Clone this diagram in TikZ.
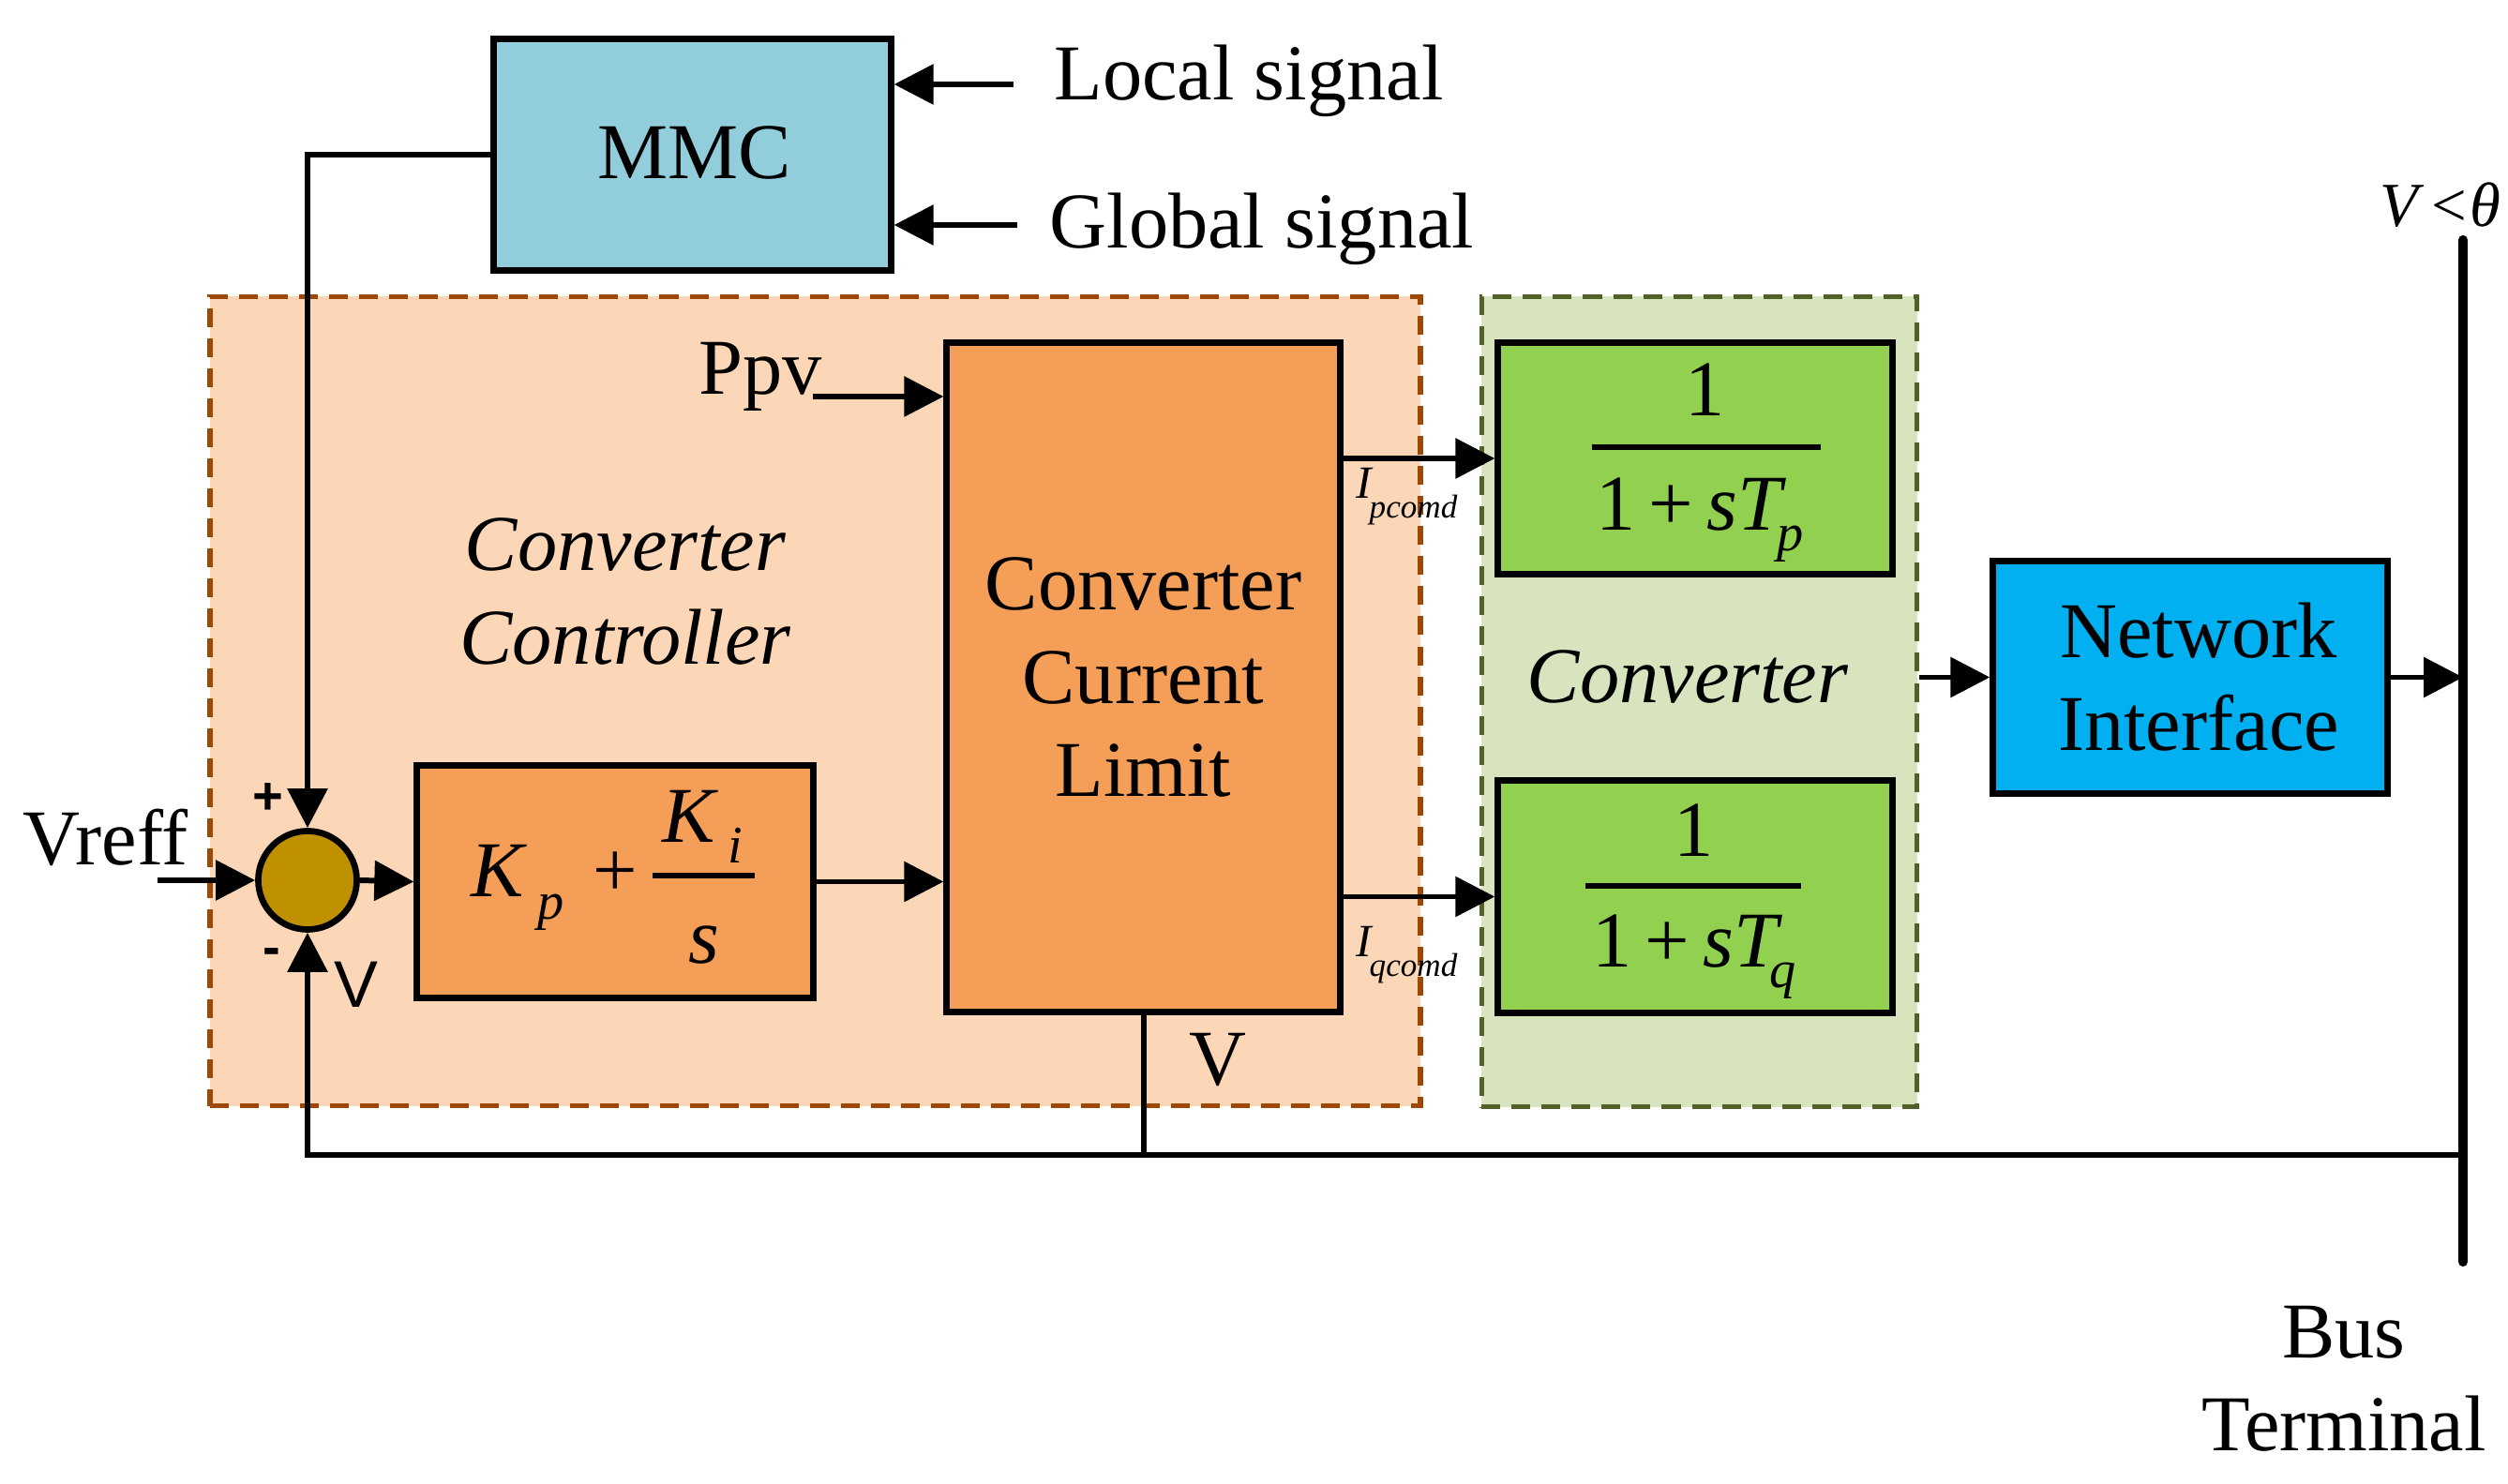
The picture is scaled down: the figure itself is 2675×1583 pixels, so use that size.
\documentclass[tikz,border=0pt]{standalone}
\usepackage{fontspec}
\setmainfont{Liberation Serif}
\newfontfamily\arialfont{Liberation Sans}
\newfontfamily\nokernserif[Kerning=Off]{Liberation Serif}
\usetikzlibrary{arrows.meta}
\definecolor{mmcfill}{RGB}{146,205,220}
\definecolor{ctrlfill}{RGB}{251,214,183}
\definecolor{ctrlborder}{RGB}{158,72,8}
\definecolor{blockorange}{RGB}{245,158,88}
\definecolor{greenblk}{RGB}{146,208,80}
\definecolor{convfill}{RGB}{216,228,190}
\definecolor{convborder}{RGB}{80,98,40}
\definecolor{nifill}{RGB}{0,176,240}
\definecolor{sumfill}{RGB}{191,144,0}
\begin{document}
\begin{tikzpicture}[x=0.01cm,y=-0.01cm,
  wire/.style={line width=1.7pt},
  arr/.style={line width=1.7pt,-{Triangle[length=0.42cm,width=0.42cm]}},
  blk/.style={draw,line width=2pt,inner sep=0pt},
  region/.style={draw,line width=1.5pt,dash pattern=on 0.2cm off 0.12cm,inner sep=0pt},
  big/.style={font=\fontsize{24}{28.3}\selectfont,inner sep=0pt},
  bigit/.style={font=\fontsize{24}{28.3}\selectfont\itshape,inner sep=0pt},
  subit/.style={font=\fontsize{16}{19}\selectfont\itshape,inner sep=0pt},
  fracbar/.style={line width=1.5pt},
  busline/.style={line width=2.9pt,line cap=round}
]
\useasboundingbox (0,0) rectangle (2675,1583);

% regions
\node[region,draw=ctrlborder,fill=ctrlfill,minimum width=12.90cm,minimum height=8.63cm] (ctrlreg) at (869.5,748) {};
\node[region,draw=convborder,fill=convfill,minimum width=4.64cm,minimum height=8.64cm] (convreg) at (1812.5,748.5) {};

% bus
\coordinate (bustop) at (2627,256);
\coordinate (busbot) at (2627,1346);
\draw[busline] (bustop) -- (busbot);

% blocks
\node[blk,fill=mmcfill,minimum width=4.23cm,minimum height=2.46cm] (mmc) at (738.5,165) {};
\node[blk,fill=blockorange,minimum width=4.19cm,minimum height=7.13cm,font=\nokernserif\fontsize{24}{28.3}\selectfont,align=center] (ccl) at (1219.5,722.5) {Converter\\Current\\Limit};
\node[blk,fill=blockorange,minimum width=4.22cm,minimum height=2.47cm] (pi) at (656,940.5) {};
\node[blk,fill=greenblk,minimum width=4.20cm,minimum height=2.46cm] (tg) at (1808,489) {};
\node[blk,fill=greenblk,minimum width=4.20cm,minimum height=2.47cm] (bg) at (1808,956.5) {};
\node[blk,fill=nifill,minimum width=4.20cm,minimum height=2.47cm] (ni) at (2336,722.5) {};
\node[draw,circle,line width=1.9pt,fill=sumfill,minimum size=1.05cm,inner sep=0pt] (sum) at (328,939) {};

% coordinates for free ends
\coordinate (loctail) at (1081,90);
\coordinate (globtail) at (1085,240);
\coordinate (ppvtail) at (867,423);
\coordinate (vin) at (168,939);
\coordinate (fb) at (2627,1232);

% connectors
\draw[arr] (loctail) -- (loctail -| mmc.east);
\draw[arr] (globtail) -- (globtail -| mmc.east);
\draw[arr] (mmc.west) -| (sum.north);
\draw[arr] (vin) -- (sum.west);
\draw[arr] (sum.east) -- (pi.west);
\draw[arr] (pi.east) -- (pi.east -| ccl.west);
\draw[arr] (ppvtail) -- (ppvtail -| ccl.west);
\draw[arr] (tg.west -| ccl.east) -- (tg.west);
\draw[arr] (bg.west -| ccl.east) -- (bg.west);
\draw[arr] (ni.west -| convreg.east) -- (ni.west);
\draw[arr] (ni.east) -- (ni.east -| bustop);
\draw[wire] (ccl.south) -- (ccl.south |- fb);
\draw[arr] (fb) -| (sum.south);

% texts
\node[big,anchor=base] (mmctxt) at (741,191) {MMC};
\node[big,anchor=base west] (loctxt) at (1124,107) {Local signal};
\node[big,anchor=base west] (globtxt) at (1119,265) {Global signal};
\node[big,anchor=base west] (ppvtxt) at (745,421) {Ppv};
\node[bigit,align=center] (cctxt) at (667,631) {Converter\\Controller};
\node[bigit,anchor=base] (convtxt) at (1800,750) {Converter};
\node[big,align=center] (nitxt) at (2345,722) {Network\\Interface};
\node[big,anchor=base west] (vreff) at (24,923) {Vreff};
\node[big] (vccl) at (1299,1131) {V};
\node[font=\arialfont\fontsize{20}{24}\selectfont,inner sep=0pt] (vsum) at (380,1050) {V};
\node[font=\arialfont\bfseries\fontsize{16}{19}\selectfont,inner sep=0pt] (plussign) at (286,852) {+};
\node[font=\arialfont\bfseries\fontsize{16}{19}\selectfont,inner sep=0pt] (minussign) at (290,1021) {-};
\node[big,align=center] (bustxt) at (2500,1471) {Bus\\Terminal};
\node[font=\fontsize{19}{22}\selectfont,anchor=base,inner sep=0pt] (vtheta) at (2603,242) {\textit{V}\kern2pt<\kern1pt\textit{θ}};

% current command labels
\node[font=\fontsize{14}{16}\selectfont\itshape,anchor=base west,inner sep=0pt] (ip1) at (1446,532) {I};
\node[font=\fontsize{10}{12}\selectfont\itshape,anchor=base west,inner sep=0pt] (ip2) at (1460,553) {pcomd};
\node[font=\fontsize{14}{16}\selectfont\itshape,anchor=base west,inner sep=0pt] (iq1) at (1446,1021) {I};
\node[font=\fontsize{10}{12}\selectfont\itshape,anchor=base west,inner sep=0pt] (iq2) at (1460,1042) {qcomd};

% PI expression
\node[bigit,anchor=base west] (kp) at (502,957) {K};
\node[subit,anchor=base west] (kpsub) at (573,981) {p};
\node[big,anchor=base] (piplus) at (656,957) {+};
\draw[fracbar] (696,934) -- (805,934);
\node[bigit,anchor=base west] (ki) at (706,899) {K};
\node[subit,anchor=base west] (kisub) at (776,921) {i};
\node[bigit,anchor=base] (sden) at (751,1028) {s};

% top converter fraction
\node[big,anchor=base] (tgnum) at (1819,444) {1};
\draw[fracbar] (1698,477) -- (1942,477);
\node[big,anchor=base west] (tgden) at (1702,566) {1\,+\,\textit{sT}};
\node[subit,anchor=base west] (tgsub) at (1895,588) {p};

% bottom converter fraction
\node[big,anchor=base] (bgnum) at (1807,914) {1};
\draw[fracbar] (1691,945) -- (1921,945);
\node[big,anchor=base west] (bgden) at (1698,1032) {1\,+\,\textit{sT}};
\node[subit,anchor=base west] (bgsub) at (1887,1054) {q};
\end{tikzpicture}
\end{document}
